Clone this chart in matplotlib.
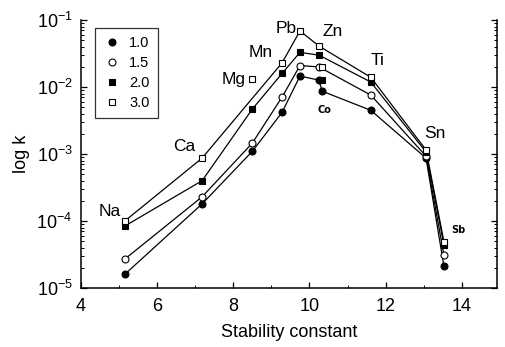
import matplotlib
matplotlib.use('Agg')
import matplotlib.pyplot as plt
from matplotlib.lines import Line2D
from matplotlib.ticker import LogLocator, FixedLocator, NullFormatter

# element positions along the stability-constant axis
elements = ["Na", "Ca", "Mg", "Mn", "Pb", "Zn", "Co", "Ti", "Sn", "Sb"]
stability = [5.15, 7.18, 8.5, 9.28, 9.75, 10.25, 10.33, 11.61, 13.06, 13.53]

# log k values per series (None = no point)
k_10 = [1.6e-5, 1.8e-4, 1.1e-3, 4.2e-3, 1.46e-2, 1.27e-2, 8.7e-3, 4.5e-3, 8.7e-4, 2.1e-5]
k_15 = [2.7e-5, 2.3e-4, 1.46e-3, 7.1e-3, 2.1e-2, 2.0e-2, None, 7.6e-3, 9.3e-4, 3.1e-5]
k_20 = [8.4e-5, 4.0e-4, 4.7e-3, 1.6e-2, 3.3e-2, 3.0e-2, 1.27e-2, 1.19e-2, 1.07e-3, 4.4e-5]
k_30 = [1.0e-4, 8.7e-4, 1.3e-2, 2.3e-2, 6.9e-2, 4.1e-2, 2.0e-2, 1.4e-2, 1.15e-3, 4.9e-5]

series_labels = ["1.0", "1.5", "2.0", "3.0"]
# points drawn as markers only, not joined by the curve
off_curve = {"1.0": [], "1.5": [], "2.0": ["Co"], "3.0": ["Mg", "Co"]}

x_ticks = [4, 6, 8, 10, 12, 14]

plt.rcParams['font.family'] = ['Liberation Sans', 'DejaVu Sans']
plt.rcParams['mathtext.fontset'] = 'custom'
plt.rcParams['mathtext.rm'] = 'Liberation Sans'
plt.rcParams['mathtext.it'] = 'Liberation Sans'

styles = {
    "1.0": dict(marker='o', mfc='black', ms=5),
    "1.5": dict(marker='o', mfc='white', ms=5),
    "2.0": dict(marker='s', mfc='black', ms=4.5),
    "3.0": dict(marker='s', mfc='white', ms=4.5),
}

fig = plt.figure(figsize=(5.06, 3.47), dpi=100)
ax = fig.add_axes((0.160, 0.170, 0.822, 0.772))

for lab, vals in zip(series_labels, [k_10, k_15, k_20, k_30]):
    st = styles[lab]
    lx, ly, mx, my = [], [], [], []
    for el, xv, v in zip(elements, stability, vals):
        if v is None:
            continue
        mx.append(xv)
        my.append(v)
        if el not in off_curve[lab]:
            lx.append(xv)
            ly.append(v)
    ax.plot(lx, ly, color='black', lw=0.9, zorder=2)
    ax.plot(mx, my, ls='none', marker=st['marker'], ms=st['ms'],
            mfc=st['mfc'], mec='black', mew=0.8, zorder=3)

# element labels
label_pos = {
    "Na": (4.75, 1.4e-4), "Ca": (6.7, 1.3e-3), "Mg": (8.0, 1.3e-2),
    "Mn": (8.72, 3.3e-2), "Pb": (9.38, 7.6e-2), "Zn": (10.62, 6.8e-2),
    "Ti": (11.8, 2.5e-2), "Sn": (13.3, 2.0e-3),
}
for el, (xv, yv) in label_pos.items():
    ax.text(xv, yv, el, fontsize=12.5, ha='center', va='center')
ax.text(10.38, 4.5e-3, "Co", fontsize=7, fontweight='bold', family='DejaVu Sans',
        ha='center', va='center')
ax.text(13.9, 7.3e-5, "Sb", fontsize=7, fontweight='bold', family='DejaVu Sans',
        ha='center', va='center')

ax.set_yscale('log')
ax.set_xlim(4, 14.92)
ax.set_ylim(1e-5, 1e-1)
ax.xaxis.set_major_locator(FixedLocator(x_ticks))
ax.xaxis.set_minor_locator(FixedLocator([5, 7, 9, 11, 13]))
ax.yaxis.set_major_locator(LogLocator(base=10))
ax.yaxis.set_minor_locator(LogLocator(base=10, subs=range(2, 10)))
ax.yaxis.set_minor_formatter(NullFormatter())
ax.set_yticks([1e-5, 1e-4, 1e-3, 1e-2, 1e-1])
ax.set_yticklabels([r'$\mathregular{10^{%d}}$' % e for e in range(-5, 0)])
ax.set_xticklabels([str(t) for t in x_ticks])

ax.tick_params(which='both', direction='in', right=True, top=False, labelsize=13)
ax.tick_params(axis='x', which='major', pad=7)
ax.tick_params(axis='y', which='major', pad=6)
ax.tick_params(which='major', length=4, width=0.9)
ax.tick_params(which='minor', length=2.5, width=0.7)
ax.spines['top'].set_visible(False)
for s in ['left', 'bottom', 'right']:
    ax.spines[s].set_linewidth(1.1)

ax.set_xlabel('Stability constant', fontsize=13, labelpad=7)
ax.set_ylabel('log k', fontsize=13, labelpad=5)

handles = [Line2D([], [], ls='none', marker=styles[l]['marker'], ms=styles[l]['ms'],
                  mfc=styles[l]['mfc'], mec='black', mew=0.8) for l in series_labels]
leg = ax.legend(handles, series_labels, loc='upper left', bbox_to_anchor=(0.034, 0.97),
                frameon=True, fancybox=False, fontsize=10.5, handlelength=1.2,
                handletextpad=0.6, borderpad=0.55, labelspacing=0.4, borderaxespad=0)
leg.get_frame().set_edgecolor('black')
leg.get_frame().set_linewidth(0.9)

fig.savefig('out.png', dpi=100)
